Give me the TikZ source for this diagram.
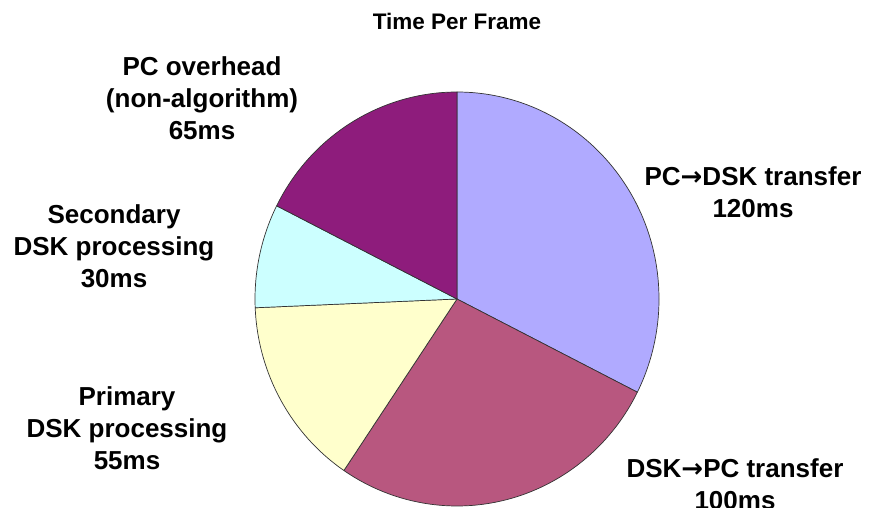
\documentclass[tikz,border=0pt]{standalone}
\usepackage{fontspec}
\setmainfont{Liberation Sans}
\newfontfamily\arrowfont{DejaVu Sans}
\definecolor{sliceA}{HTML}{B0AAFF}
\definecolor{sliceB}{HTML}{B8577F}
\definecolor{sliceC}{HTML}{FFFFCC}
\definecolor{sliceD}{HTML}{CCFFFF}
\definecolor{sliceE}{HTML}{8E1C7C}
\tikzset{
  slice/.style={draw=black!80, line width=0.7pt, line join=round},
  lbl/.style={font=\bfseries\fontsize{26}{32}\selectfont, align=center, inner sep=0pt},
  ttl/.style={font=\bfseries\fontsize{22.5}{27}\selectfont, inner sep=0pt},
}
% transfer arrow between the two endpoints' names
\newcommand{\xferarrow}{{\arrowfont\bfseries →}}
% a pie slice from angle #1 to #2 (screen y points down, so angles run clockwise)
\newcommand{\pieslice}[3]{%
  \filldraw[slice, fill=#3] (0,0) -- (#1:202 and 207)
    arc[start angle=#1, end angle=#2, x radius=202, y radius=207] -- cycle;}
\begin{document}
\begin{tikzpicture}[x=1pt, y=-1pt]
\useasboundingbox (0,0) rectangle (870,508);
\clip (0,0) rectangle (870,508);

\node[ttl] (title) at (457,21) {Time Per Frame};

\begin{scope}[shift={(457,299)}]
  \pieslice{-90}{26.757}{sliceA}
  \pieslice{26.757}{124.054}{sliceB}
  \pieslice{124.054}{177.568}{sliceC}
  \pieslice{177.568}{206.757}{sliceD}
  \pieslice{206.757}{270}{sliceE}
\end{scope}

\node[lbl] (pcdsk) at (753,192) {PC\xferarrow DSK transfer\\120ms};
\node[lbl] (dskpc) at (735,484) {DSK\xferarrow PC transfer\\100ms};
\node[lbl] (primary) at (127,428) {Primary\\DSK processing\\55ms};
\node[lbl] (secondary) at (114,246) {Secondary\\DSK processing\\30ms};
\node[lbl] (overhead) at (202,98) {PC overhead\\(non-algorithm)\\65ms};
\end{tikzpicture}
\end{document}
